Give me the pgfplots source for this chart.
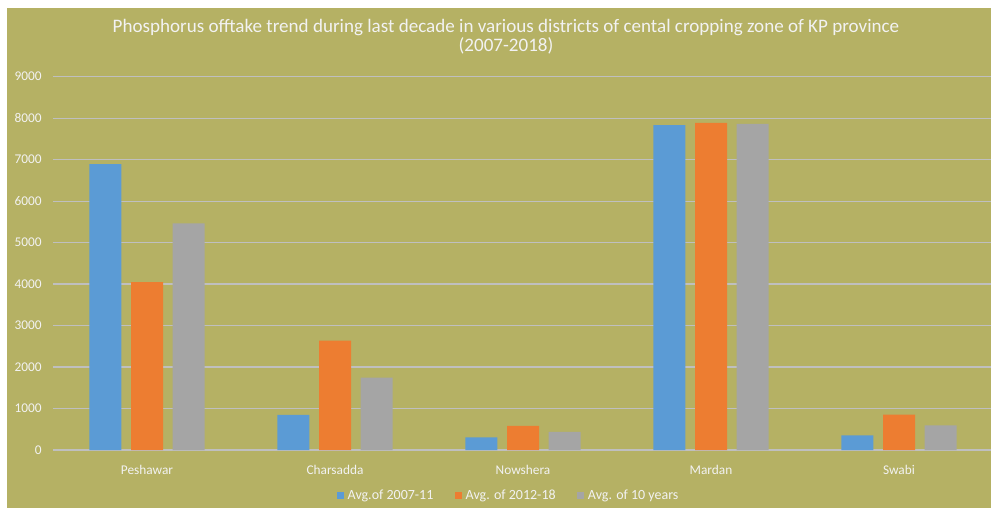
\documentclass[border=0pt]{standalone}
\usepackage{pgfplots}
\pgfplotsset{compat=1.18}
\usepackage{fontspec}
\setmainfont{Carlito}
\definecolor{bg}{RGB}{181,177,100}
\definecolor{sblue}{RGB}{91,155,213}
\definecolor{sorange}{RGB}{237,125,49}
\definecolor{sgray}{RGB}{165,165,165}
\definecolor{grid}{RGB}{217,217,217}
\definecolor{txt}{RGB}{242,242,242}
\begin{document}
\begin{tikzpicture}[x=0.75pt,y=0.75pt]
\fill[white] (0,0) rectangle (991,508);
\fill[bg] (7,0) rectangle (991,500);
\node[text=txt,font=\fontsize{14.3pt}{14.5pt}\selectfont,align=center] at (506,471)
  {Phosphorus offtake trend during last decade in various districts of cental cropping zone of KP province\\(2007-2018)};
\begin{axis}[
  at={(39.75pt,43.5pt)}, anchor=south west,
  scale only axis, width=705pt, height=280pt,
  ybar=7.3pt, bar width=24pt,
  xmin=-0.5, xmax=4.5, ymin=0, ymax=9000,
  xtick=data,
  xticklabels={Peshawar,Charsadda,Nowshera,Mardan,Swabi},
  ytick={0,1000,...,9000},
  axis line style={draw=none},
  xmajorgrids=false, ymajorgrids=true,
  grid style={grid, line width=0.9pt},
  xtick style={draw=none}, ytick style={draw=none},
  tick label style={text=txt, font=\fontsize{10pt}{11pt}\selectfont},
  yticklabel style={xshift=-5pt},
  xticklabel style={yshift=-4pt},
  /pgf/number format/.cd, 1000 sep={}, assume math mode=true,
  /pgfplots/.cd,
  legend style={at={(0.485,-0.122)}, anchor=center, draw=none, fill=none,
    legend columns=3, text=txt, font=\fontsize{10.5pt}{11pt}\selectfont,
    /tikz/every odd column/.append style={column sep=1pt},
    /tikz/every even column/.append style={column sep=14pt}},
  legend image code/.code={\fill[#1] (0pt,-2.6pt) rectangle (5.2pt,2.6pt);},
]
\addplot[fill=sblue, draw=none] coordinates {(0,6890) (1,845) (2,305) (3,7835) (4,355)};
\addplot[fill=sorange, draw=none] coordinates {(0,4050) (1,2635) (2,580) (3,7885) (4,850)};
\addplot[fill=sgray, draw=none] coordinates {(0,5465) (1,1745) (2,435) (3,7860) (4,595)};
\legend{Avg.of 2007-11, Avg. of 2012-18, Avg. of 10 years}
\end{axis}
\pgfresetboundingbox
\path[use as bounding box] (0,0) rectangle (991,508);
\end{tikzpicture}
\end{document}
